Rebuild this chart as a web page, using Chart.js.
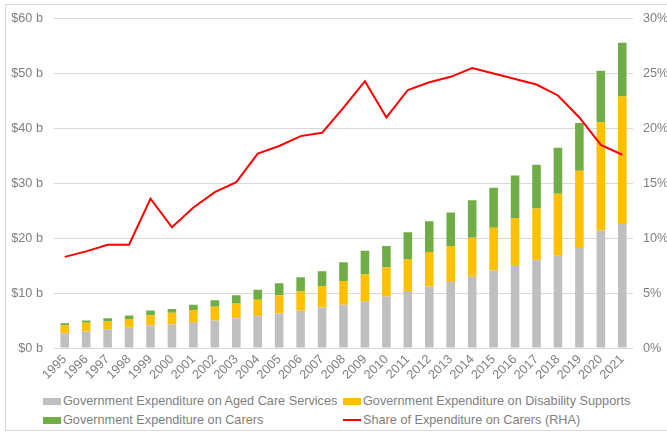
<!DOCTYPE html>
<html>
<head>
<meta charset="utf-8">
<script src="https://cdn.jsdelivr.net/npm/chart.js@4.4.1/dist/chart.umd.min.js"></script>
<style>
    body { margin: 0; background: #fff; }
    #wrap { position: relative; width: 667px; height: 434px; overflow: hidden; font-family: "Liberation Sans", Arial, sans-serif; }
    #frame { position: absolute; left: 5px; top: 4px; width: 668px; height: 425px; border: 1px solid #d9d9d9; }
    #chart-box { position: absolute; left: 0; top: 0; width: 667px; height: 385px; }
    .leg { position: absolute; font-size: 12.7px; line-height: 14px; color: #7f7f7f; white-space: nowrap; }
    .leg i { position: absolute; left: 0; width: 18px; }
    .leg span { position: absolute; left: 20px; top: 0; }
</style>
</head>
<body>
<div id="wrap">
    <div id="frame"></div>
    <div id="chart-box"><canvas id="expenditure-chart" width="667" height="385"></canvas></div>
    <div class="leg" style="left:43px; top:394px;"><i style="top:4px; height:7px; background:#bfbfbf;"></i><span>Government Expenditure on Aged Care Services</span></div>
    <div class="leg" style="left:343px; top:394px;"><i style="top:4px; height:7px; background:#ffc000;"></i><span>Government Expenditure on Disability Supports</span></div>
    <div class="leg" style="left:43px; top:413px;"><i style="top:4px; height:7px; background:#70ad47;"></i><span>Government Expenditure on Carers</span></div>
    <div class="leg" style="left:343px; top:413px;"><i style="top:6px; height:2px; background:#ff0000;"></i><span>Share of Expenditure on Carers (RHA)</span></div>
</div>
<script>
    // Années
    const years = ['1995', '1996', '1997', '1998', '1999', '2000', '2001', '2002', '2003', '2004', '2005', '2006', '2007',
        '2008', '2009', '2010', '2011', '2012', '2013', '2014', '2015', '2016', '2017', '2018', '2019', '2020', '2021'];

    // Dépenses ($ b)
    const agedCare = [2.7, 3.0, 3.4, 3.7, 4.1, 4.3, 4.6, 5.0, 5.4, 5.8, 6.3, 6.8, 7.4,
        7.9, 8.5, 9.4, 10.4, 11.2, 12.0, 13.0, 14.1, 15.1, 16.0, 16.8, 18.2, 21.4, 22.6];
    const disability = [1.4, 1.6, 1.5, 1.6, 1.8, 2.1, 2.3, 2.5, 2.8, 3.0, 3.3, 3.5, 3.9,
        4.3, 4.9, 5.3, 5.7, 6.3, 6.6, 7.1, 7.8, 8.6, 9.4, 11.3, 14.1, 19.7, 23.2];
    const carers = [0.4, 0.4, 0.5, 0.6, 0.95, 0.7, 1.0, 1.2, 1.4, 1.8, 2.2, 2.6, 2.7,
        3.4, 4.3, 3.9, 5.0, 5.6, 6.1, 6.8, 7.3, 7.7, 8.0, 8.4, 8.7, 9.4, 9.8];

    // Part des aidants (%)
    const carersShare = [8.3, 8.8, 9.4, 9.4, 13.6, 11.0, 12.8, 14.2, 15.1, 17.7, 18.4, 19.3, 19.6,
        21.9, 24.3, 21.0, 23.5, 24.2, 24.7, 25.5, 25.0, 24.5, 24.0, 23.0, 21.0, 18.5, 17.6];

    const tickFont = { family: '"Liberation Sans", Arial, sans-serif', size: 12.7 };
    const tickColor = '#7f7f7f';

    const ctx = document.getElementById('expenditure-chart').getContext('2d');
    new Chart(ctx, {
        data: {
            labels: years,
            datasets: [
                {
                    type: 'line',
                    label: 'Share of Expenditure on Carers (RHA)',
                    data: carersShare,
                    yAxisID: 'y1',
                    borderColor: '#ff0000',
                    borderWidth: 2,
                    pointRadius: 0,
                    tension: 0,
                    order: 0
                },
                {
                    type: 'bar',
                    label: 'Government Expenditure on Aged Care Services',
                    data: agedCare,
                    backgroundColor: '#bfbfbf',
                    stack: 'exp',
                    order: 1
                },
                {
                    type: 'bar',
                    label: 'Government Expenditure on Disability Supports',
                    data: disability,
                    backgroundColor: '#ffc000',
                    stack: 'exp',
                    order: 1
                },
                {
                    type: 'bar',
                    label: 'Government Expenditure on Carers',
                    data: carers,
                    backgroundColor: '#70ad47',
                    stack: 'exp',
                    order: 1
                }
            ]
        },
        options: {
            responsive: false,
            animation: false,
            layout: { padding: { top: 16, left: 0, right: 0, bottom: 0 } },
            datasets: { bar: { barPercentage: 0.4, categoryPercentage: 1.0 } },
            plugins: { legend: { display: false }, tooltip: { enabled: false } },
            scales: {
                x: {
                    stacked: true,
                    grid: { display: false, drawTicks: false },
                    border: { display: false },
                    ticks: { color: tickColor, font: tickFont, maxRotation: 45, minRotation: 45, autoSkip: false, padding: 4 },
                    afterFit: function(scale) { scale.height = 37; }
                },
                y: {
                    stacked: true,
                    position: 'left',
                    min: 0,
                    max: 60,
                    grid: { color: '#d9d9d9', drawTicks: false },
                    border: { display: false },
                    ticks: {
                        stepSize: 10,
                        color: tickColor,
                        font: tickFont,
                        padding: 11,
                        callback: function(value) { return '$' + value + ' b'; }
                    },
                    afterFit: function(scale) { scale.width = 54; }
                },
                y1: {
                    position: 'right',
                    min: 0,
                    max: 30,
                    grid: { display: false, drawTicks: false },
                    border: { display: false },
                    ticks: {
                        stepSize: 5,
                        color: tickColor,
                        font: tickFont,
                        padding: 10,
                        callback: function(value) { return value + '%'; }
                    },
                    afterFit: function(scale) { scale.width = 34; }
                }
            }
        }
    });
</script>
</body>
</html>
